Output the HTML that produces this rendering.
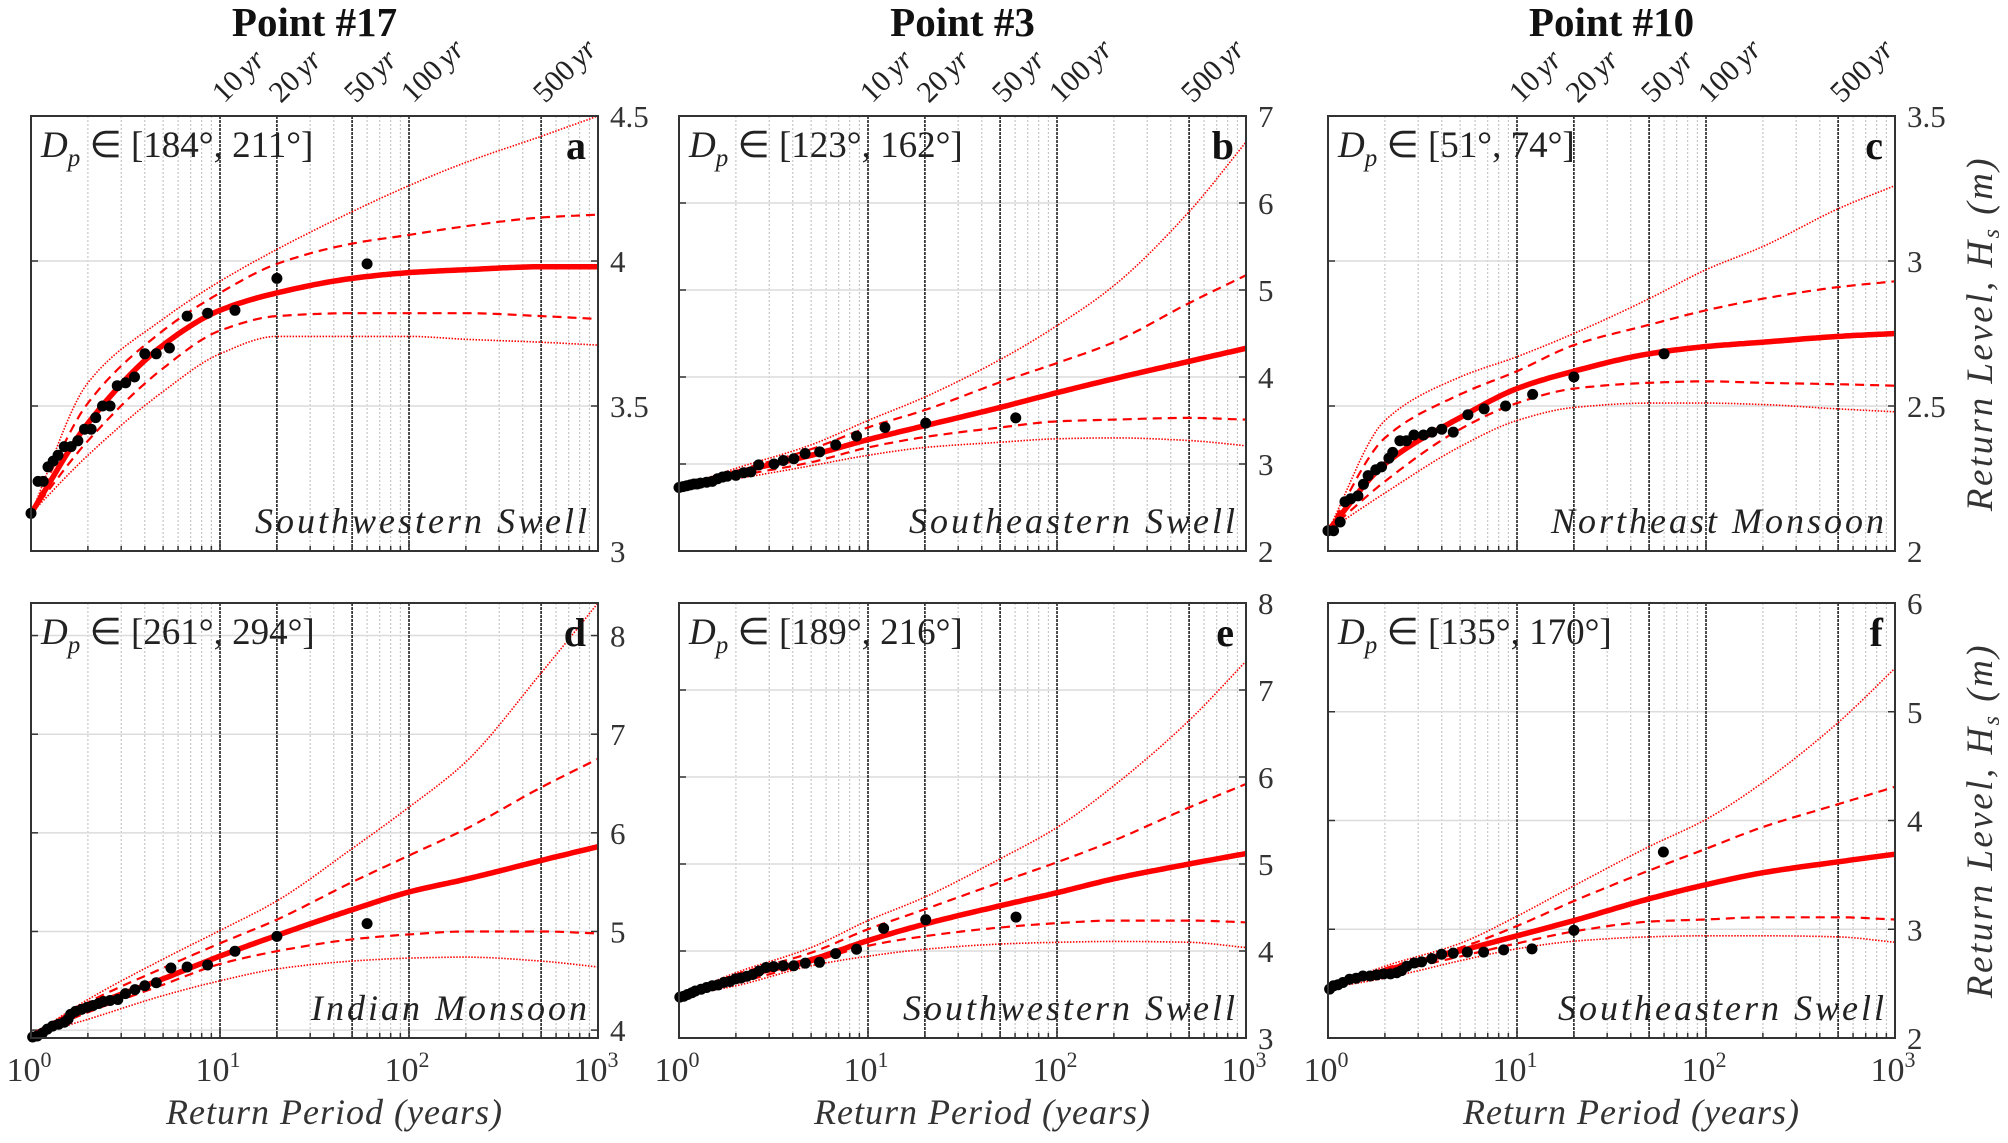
<!DOCTYPE html>
<html><head><meta charset="utf-8">
<style>
html,body{margin:0;padding:0;background:#fff;}
svg{display:block;font-family:"Liberation Serif",serif;}
</style></head>
<body>
<svg id="fig" width="2008" height="1143" viewBox="0 0 2008 1143" xmlns="http://www.w3.org/2000/svg"></svg>
<script>
// ---- Data ----
const periods = [1,2,5,10,20,50,100,200,500,1000];
const titles = ["Point #17","Point #3","Point #10"];
const letters = ["a","b","c","d","e","f"];
const regions = ["Southwestern Swell","Southeastern Swell","Northeast Monsoon","Indian Monsoon","Southwestern Swell","Southeastern Swell"];
const dirLo = [184,123,51,261,189,135];
const dirHi = [211,162,74,294,216,170];
const yMin = [3,2,2,3.92,3,2];
const yMax = [4.5,7,3.5,8.33,8,6];
const ticksA = [3,3.5,4,4.5];
const ticksB = [2,3,4,5,6,7];
const ticksC = [2,2.5,3,3.5];
const ticksD = [4,5,6,7,8];
const ticksE = [3,4,5,6,7,8];
const ticksF = [2,3,4,5,6];
const markerYears = [10,20,50,100,500];
const markerLabels = ["10","20","50","100","500"];

const centralA = [3.13,3.44,3.71,3.83,3.89,3.94,3.96,3.97,3.98,3.98];
const upDotA   = [3.13,3.58,3.80,3.93,4.04,4.17,4.26,4.34,4.43,4.50];
const upDashA  = [3.13,3.51,3.76,3.89,3.99,4.06,4.09,4.12,4.15,4.16];
const loDashA  = [3.13,3.38,3.63,3.76,3.81,3.82,3.82,3.82,3.81,3.80];
const loDotA   = [3.13,3.33,3.55,3.68,3.74,3.74,3.74,3.73,3.72,3.71];
const obsTA = [1.0,1.09,1.16,1.23,1.31,1.39,1.5,1.63,1.77,1.92,2.08,2.2,2.39,2.62,2.86,3.17,3.53,4.0,4.6,5.4,6.7,8.6,12,20,60];
const obsYA = [3.13,3.24,3.24,3.29,3.31,3.33,3.36,3.36,3.38,3.42,3.42,3.46,3.5,3.5,3.57,3.58,3.6,3.68,3.68,3.70,3.81,3.82,3.83,3.94,3.99];

const centralB = [2.73,2.90,3.10,3.28,3.44,3.65,3.82,3.98,4.18,4.33];
const upDotB   = [2.73,2.95,3.22,3.50,3.77,4.20,4.59,5.05,5.90,6.70];
const upDashB  = [2.73,2.92,3.17,3.42,3.62,3.94,4.16,4.40,4.85,5.17];
const loDashB  = [2.73,2.86,3.02,3.19,3.31,3.42,3.49,3.51,3.53,3.51];
const loDotB   = [2.73,2.83,2.98,3.10,3.19,3.25,3.29,3.30,3.27,3.21];
const obsTB = [1.0,1.05,1.1,1.15,1.2,1.25,1.3,1.4,1.5,1.6,1.7,1.8,2.0,2.2,2.4,2.64,3.18,3.56,4.05,4.65,5.55,6.75,8.7,12.3,20.2,60.5];
const obsYB = [2.73,2.74,2.75,2.76,2.77,2.77,2.78,2.79,2.80,2.83,2.85,2.86,2.87,2.90,2.91,2.99,3.0,3.04,3.06,3.12,3.14,3.22,3.32,3.42,3.47,3.53];

const centralC = [2.07,2.30,2.46,2.56,2.62,2.68,2.705,2.72,2.74,2.75];
const upDotC   = [2.07,2.45,2.60,2.67,2.75,2.87,2.97,3.05,3.18,3.26];
const upDashC  = [2.07,2.39,2.54,2.62,2.71,2.78,2.83,2.87,2.91,2.93];
const loDashC  = [2.07,2.24,2.42,2.51,2.56,2.58,2.585,2.58,2.575,2.57];
const loDotC   = [2.07,2.20,2.36,2.45,2.495,2.51,2.51,2.505,2.49,2.48];
const obsTC = [1.0,1.07,1.16,1.23,1.32,1.44,1.54,1.63,1.79,1.92,2.1,2.2,2.4,2.6,2.85,3.2,3.55,4.0,4.6,5.5,6.7,8.7,12.1,20,60];
const obsYC = [2.07,2.07,2.10,2.17,2.18,2.19,2.23,2.26,2.28,2.29,2.32,2.34,2.38,2.38,2.40,2.40,2.41,2.42,2.41,2.47,2.49,2.50,2.54,2.60,2.68];

const centralD = [3.94,4.23,4.52,4.75,4.96,5.22,5.40,5.53,5.72,5.86];
const upDotD   = [3.94,4.31,4.72,5.01,5.31,5.84,6.26,6.72,7.62,8.33];
const upDashD  = [3.94,4.28,4.63,4.88,5.12,5.50,5.77,6.04,6.46,6.75];
const loDashD  = [3.94,4.18,4.46,4.67,4.80,4.92,4.97,5.00,5.00,4.98];
const loDotD   = [3.94,4.11,4.35,4.50,4.62,4.70,4.73,4.74,4.70,4.64];
const obsTD = [1.02,1.08,1.15,1.22,1.3,1.4,1.5,1.57,1.62,1.72,1.85,1.98,2.13,2.28,2.42,2.62,2.88,3.16,3.55,4.0,4.6,5.5,6.7,8.6,12,20,60];
const obsYD = [3.93,3.94,3.97,4.01,4.04,4.06,4.08,4.11,4.16,4.19,4.21,4.23,4.25,4.27,4.29,4.30,4.31,4.37,4.41,4.45,4.48,4.63,4.64,4.66,4.80,4.95,5.08];

const centralE = [3.48,3.69,3.90,4.12,4.31,4.52,4.67,4.83,5.00,5.12];
const upDotE   = [3.48,3.75,4.04,4.35,4.62,5.06,5.42,5.90,6.65,7.33];
const upDashE  = [3.48,3.73,3.98,4.25,4.48,4.79,5.02,5.27,5.65,5.92];
const loDashE  = [3.48,3.63,3.87,4.06,4.17,4.27,4.32,4.35,4.35,4.33];
const loDotE   = [3.48,3.60,3.83,3.94,4.02,4.08,4.10,4.11,4.10,4.04];
const obsTE = [1.01,1.06,1.11,1.17,1.22,1.31,1.4,1.5,1.61,1.73,1.86,1.99,2.13,2.29,2.45,2.65,2.89,3.17,3.56,4.05,4.66,5.54,6.74,8.7,12.1,20.2,60.7];
const obsYE = [3.47,3.48,3.50,3.52,3.54,3.56,3.58,3.60,3.61,3.64,3.65,3.68,3.69,3.71,3.73,3.77,3.81,3.82,3.83,3.83,3.86,3.87,3.97,4.02,4.26,4.36,4.39];

const centralF = [2.46,2.62,2.80,2.94,3.08,3.28,3.41,3.52,3.62,3.69];
const upDotF   = [2.46,2.66,2.87,3.12,3.40,3.76,4.01,4.35,4.90,5.40];
const upDashF  = [2.46,2.64,2.83,3.03,3.26,3.54,3.74,3.94,4.15,4.31];
const loDashF  = [2.46,2.59,2.75,2.87,2.98,3.07,3.09,3.11,3.11,3.09];
const loDotF   = [2.46,2.55,2.71,2.82,2.89,2.93,2.94,2.94,2.93,2.88];
const obsTF = [1.02,1.07,1.13,1.2,1.3,1.41,1.53,1.67,1.81,1.97,2.14,2.31,2.45,2.61,2.86,3.13,3.54,3.99,4.6,5.46,6.66,8.5,12,20,59.5];
const obsYF = [2.45,2.48,2.49,2.51,2.54,2.55,2.57,2.57,2.58,2.59,2.59,2.60,2.62,2.66,2.69,2.70,2.73,2.77,2.78,2.79,2.79,2.81,2.82,2.99,3.71];

// ---- Drawing ----
const NS = "http://www.w3.org/2000/svg";
const svg = document.getElementById("fig");
function mk(tag, parent){ const e = document.createElementNS(NS, tag); parent.appendChild(e); return e; }

const colX = [31,679,1328];
const rowY = [116,603];
const PW = 567, PH = 435;

const panelData = [
  {c:centralA,ud:upDotA,uh:upDashA,lh:loDashA,ld:loDotA,ot:obsTA,oy:obsYA,ticks:ticksA},
  {c:centralB,ud:upDotB,uh:upDashB,lh:loDashB,ld:loDotB,ot:obsTB,oy:obsYB,ticks:ticksB},
  {c:centralC,ud:upDotC,uh:upDashC,lh:loDashC,ld:loDotC,ot:obsTC,oy:obsYC,ticks:ticksC},
  {c:centralD,ud:upDotD,uh:upDashD,lh:loDashD,ld:loDotD,ot:obsTD,oy:obsYD,ticks:ticksD},
  {c:centralE,ud:upDotE,uh:upDashE,lh:loDashE,ld:loDotE,ot:obsTE,oy:obsYE,ticks:ticksE},
  {c:centralF,ud:upDotF,uh:upDashF,lh:loDashF,ld:loDotF,ot:obsTF,oy:obsYF,ticks:ticksF}
];

function pchip(xsA, ysA){
  const n = xsA.length, h=[], dl=[], m=new Array(n);
  for(let i=0;i<n-1;i++){ h[i]=xsA[i+1]-xsA[i]; dl[i]=(ysA[i+1]-ysA[i])/h[i]; }
  m[0]=dl[0]; m[n-1]=dl[n-2];
  for(let i=1;i<n-1;i++){
    if(dl[i-1]*dl[i]<=0) m[i]=0;
    else { const w1=2*h[i]+h[i-1], w2=h[i]+2*h[i-1]; m[i]=(w1+w2)/(w1/dl[i-1]+w2/dl[i]); }
  }
  return function(x){
    let i=0; while(i<n-2 && x>xsA[i+1]) i++;
    const t=(x-xsA[i])/h[i], t2=t*t, t3=t2*t;
    return (2*t3-3*t2+1)*ysA[i]+(t3-2*t2+t)*h[i]*m[i]+(-2*t3+3*t2)*ysA[i+1]+(t3-t2)*h[i]*m[i+1];
  };
}
const logP = periods.map(t=>Math.log10(t));

for(let p=0;p<6;p++){
  const row = Math.floor(p/3), col = p%3;
  const x0 = colX[col], y0 = rowY[row];
  const D = panelData[p];
  const xs = t => x0 + Math.log10(t)/3*PW;
  const ys = v => y0 + PH - (v - yMin[p])/(yMax[p]-yMin[p])*PH;

  const g = mk("g", svg);
  
  

  const clipId = "clip"+p;
  const cp = mk("clipPath", g); cp.setAttribute("id", clipId);
  const cr = mk("rect", cp); cr.setAttribute("x",x0); cr.setAttribute("y",y0); cr.setAttribute("width",PW); cr.setAttribute("height",PH);

  for(let dec=0;dec<3;dec++){
    for(let k=2;k<=9;k++){
      const t = k*Math.pow(10,dec);
      const ln = mk("line", g);
      
      
      ln.setAttribute("x1",xs(t)); ln.setAttribute("x2",xs(t));
      ln.setAttribute("y1",y0); ln.setAttribute("y2",y0+PH);
      ln.setAttribute("stroke","#bbb"); ln.setAttribute("stroke-width","1"); ln.setAttribute("stroke-dasharray","2,2");
    }
  }
  D.ticks.forEach(v=>{
    const ln = mk("line", g);
    
    
    ln.setAttribute("x1",x0); ln.setAttribute("x2",x0+PW);
    ln.setAttribute("y1",ys(v)); ln.setAttribute("y2",ys(v));
    ln.setAttribute("stroke","#dcdcdc"); ln.setAttribute("stroke-width","1.5");
    for(const side of [0,1]){
      const tk = mk("line", g);
      
      
      const xx = side? x0+PW : x0;
      tk.setAttribute("x1",xx); tk.setAttribute("x2",side? xx-7: xx+7);
      tk.setAttribute("y1",ys(v)); tk.setAttribute("y2",ys(v));
      tk.setAttribute("stroke","#333"); tk.setAttribute("stroke-width","1.5");
    }
    const tl = mk("text", g);
    
    
    tl.setAttribute("x", x0+PW+12); tl.setAttribute("y", ys(v)+11);
    tl.setAttribute("font-size","31"); tl.setAttribute("fill","#333");
    tl.textContent = String(v);
  });
  markerYears.forEach((t,i)=>{
    const ln = mk("line", g);
    
    
    ln.setAttribute("x1",xs(t)); ln.setAttribute("x2",xs(t));
    ln.setAttribute("y1",y0); ln.setAttribute("y2",y0+PH);
    ln.setAttribute("stroke","#222"); ln.setAttribute("stroke-width","1.6"); ln.setAttribute("stroke-dasharray","3,1");
    if(row===0){
      const tx = mk("text", g);
      
      
      tx.setAttribute("font-size","30"); tx.setAttribute("fill","#222");
      tx.setAttribute("transform","translate("+(xs(t)+4)+","+(y0-12)+") rotate(-45)");
      tx.innerHTML = markerLabels[i]+'<tspan font-style="italic" dx="5">yr</tspan>';
    }
  });
  for(let dec=0;dec<=3;dec++){
    for(let k=1;k<=9;k++){
      const t = k*Math.pow(10,dec); if(t>1000) break;
      const L = k===1?9:5;
      const tk = mk("line", g);
      
      
      tk.setAttribute("x1",xs(t)); tk.setAttribute("x2",xs(t));
      tk.setAttribute("y1",y0+PH); tk.setAttribute("y2",y0+PH-L);
      tk.setAttribute("stroke","#333"); tk.setAttribute("stroke-width","1.5");
    }
    if(row===1){
      const tl = mk("text", g);
      
      
      tl.setAttribute("x", xs(Math.pow(10,dec))-2); tl.setAttribute("y", y0+PH+43);
      tl.setAttribute("font-size","34"); tl.setAttribute("fill","#333"); tl.setAttribute("text-anchor","middle");
      tl.innerHTML = '10<tspan font-size="22" dy="-14">'+dec+'</tspan>';
    }
  }
  const series = [
    {v:D.ld, w:1.6, dash:"1.5,1.5", n:"lower-ci-95"},
    {v:D.ud, w:1.6, dash:"1.5,1.5", n:"upper-ci-95"},
    {v:D.lh, w:2.2, dash:"9,6", n:"lower-ci-68"},
    {v:D.uh, w:2.2, dash:"9,6", n:"upper-ci-68"},
    {v:D.c, w:5.5, dash:"", n:"return-level-fit"}
  ];
  series.forEach(s=>{
    const f = pchip(logP, s.v);
    let d = "";
    for(let k=0;k<=150;k++){
      const u = 3*k/150;
      const px = x0 + u/3*PW, py = ys(f(u));
      d += (k?" L":"M")+px.toFixed(1)+","+py.toFixed(1);
    }
    const pa = mk("path", g);
    
    
    pa.setAttribute("d", d);
    pa.setAttribute("fill","none"); pa.setAttribute("stroke","#f00");
    pa.setAttribute("stroke-width", s.w);
    if(s.dash) pa.setAttribute("stroke-dasharray", s.dash);
    pa.setAttribute("clip-path","url(#"+clipId+")");
  });
  D.ot.forEach((t,i)=>{
    const c = mk("circle", g);
    
    
    c.setAttribute("cx", xs(t)); c.setAttribute("cy", ys(D.oy[i])); c.setAttribute("r","5.5");
    c.setAttribute("fill","#000");
  });
  const fr = mk("rect", g);
  
  
  fr.setAttribute("x",x0); fr.setAttribute("y",y0); fr.setAttribute("width",PW); fr.setAttribute("height",PH);
  fr.setAttribute("fill","none"); fr.setAttribute("stroke","#333"); fr.setAttribute("stroke-width","2");
  const dl = mk("text", g);
  
  
  dl.setAttribute("x", x0+10); dl.setAttribute("y", y0+41);
  dl.setAttribute("font-size","37"); dl.setAttribute("fill","#222");
  dl.innerHTML = '<tspan font-style="italic">D</tspan><tspan font-style="italic" font-size="25" dy="9">p</tspan><tspan dy="-9"> ∈ [' + dirLo[p] + '°, ' + dirHi[p] + '°]</tspan>';
  const lt = mk("text", g);
  
  
  lt.setAttribute("x", x0+PW-12); lt.setAttribute("y", y0+43);
  lt.setAttribute("font-size","40"); lt.setAttribute("font-weight","bold"); lt.setAttribute("text-anchor","end"); lt.setAttribute("fill","#111");
  lt.textContent = letters[p];
  const rg = mk("text", g);
  
  
  rg.setAttribute("x", x0+PW-8); rg.setAttribute("y", y0+PH-18);
  rg.setAttribute("font-size","36"); rg.setAttribute("font-style","italic"); rg.setAttribute("text-anchor","end"); rg.setAttribute("fill","#222");
  rg.setAttribute("letter-spacing","3");
  rg.textContent = regions[p];
}
titles.forEach((t,i)=>{
  const tx = mk("text", svg);
  
  
  tx.setAttribute("x", colX[i]+PW/2); tx.setAttribute("y", 36);
  tx.setAttribute("font-size","41"); tx.setAttribute("font-weight","bold"); tx.setAttribute("text-anchor","middle"); tx.setAttribute("fill","#111");
  tx.textContent = t;
});
colX.forEach(x=>{
  const tx = mk("text", svg);
  
  
  tx.setAttribute("x", x+PW/2+20); tx.setAttribute("y", 1124);
  tx.setAttribute("font-size","36"); tx.setAttribute("font-style","italic"); tx.setAttribute("text-anchor","middle"); tx.setAttribute("fill","#333");
  tx.setAttribute("letter-spacing","1");
  tx.textContent = "Return Period (years)";
});
rowY.forEach(y=>{
  const tx = mk("text", svg);
  
  
  tx.setAttribute("font-size","37"); tx.setAttribute("font-style","italic"); tx.setAttribute("text-anchor","middle"); tx.setAttribute("fill","#333");
  tx.setAttribute("letter-spacing","2.5");
  tx.setAttribute("transform","translate(1992,"+(y+PH/2)+") rotate(-90)");
  tx.innerHTML = 'Return Level, H<tspan font-size="24" dy="7">s</tspan><tspan dy="-7"> (m)</tspan>';
});
</script>
</body></html>
